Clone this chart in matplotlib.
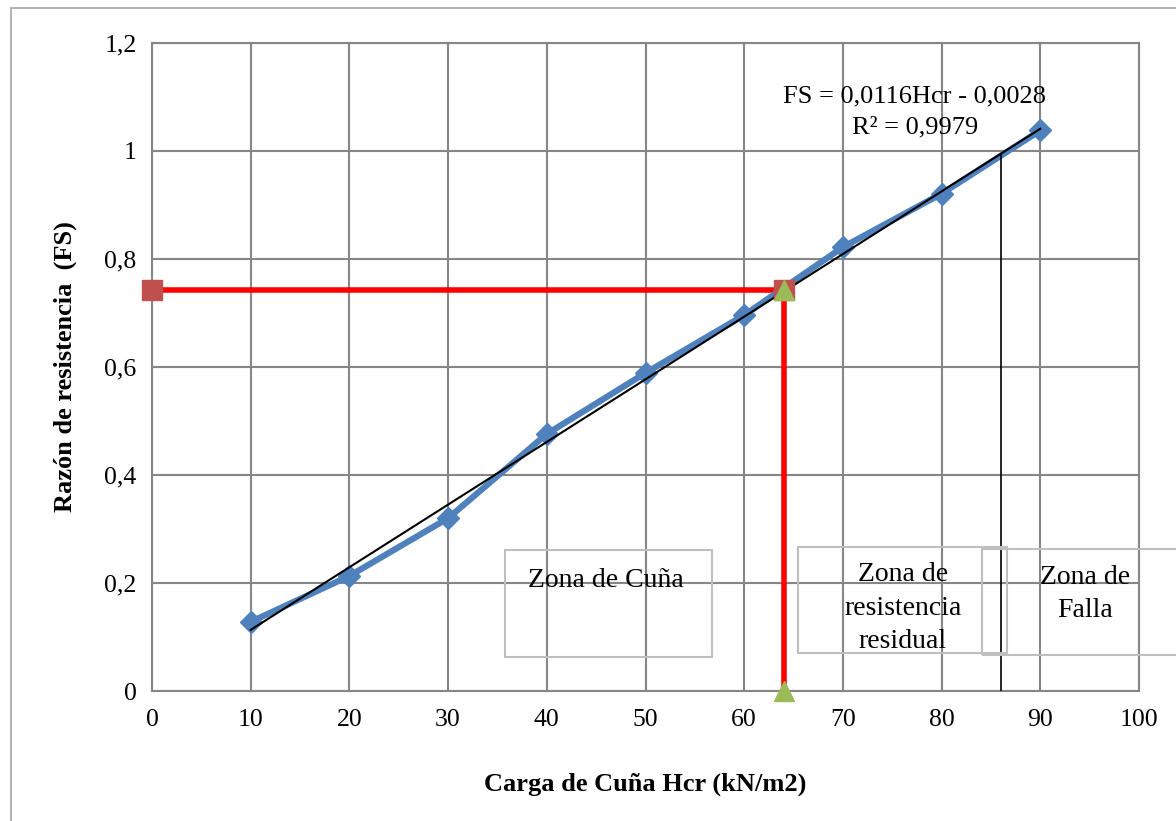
import numpy as np
import matplotlib.pyplot as plt
from matplotlib.patches import Rectangle
from matplotlib.ticker import FuncFormatter, MultipleLocator

# datos
carga_hcr = [10, 20, 30, 40, 50, 60, 70, 80, 90]
razon_fs = [0.128, 0.213, 0.320, 0.476, 0.589, 0.696, 0.822, 0.921, 1.038]

# recta de ajuste FS = 0,0116Hcr - 0,0028
pendiente = 0.0116
intercepto = -0.0028
rango_ajuste = [10, 90]

# lectura de la carga critica
hcr_lectura = 64.0
fs_lectura = 0.743

# limite de zona de falla
hcr_falla = 86.0

zonas = ["Zona de Cuña", "Zona de\nresistencia\nresidual", "Zona de\nFalla"]

W, H = 1176, 821
fig = plt.figure(figsize=(W / 100, H / 100), dpi=100)
plt.rcParams['font.family'] = ['Liberation Serif', 'DejaVu Serif']


def px(x, y):
    return x / W, 1 - y / H


# borde exterior del grafico
fig.patches.append(Rectangle(px(11, 830), (W + 20) / W, (830 - 8) / H,
                             transform=fig.transFigure, fill=False,
                             edgecolor="#a6a6a6", lw=1.2))

ax = fig.add_axes([152 / W, 1 - 691 / H, (1139 - 152) / W, (691 - 43) / H])
ax.set_xlim(0, 100)
ax.set_ylim(0, 1.2)
ax.xaxis.set_major_locator(MultipleLocator(10))
ax.yaxis.set_major_locator(MultipleLocator(0.2))
coma = FuncFormatter(lambda v, p: ("%g" % round(v, 2)).replace(".", ","))
ax.xaxis.set_major_formatter(coma)
ax.yaxis.set_major_formatter(coma)
ax.grid(True, color="#868686", lw=1.5)
ax.set_axisbelow(True)
for s in ax.spines.values():
    s.set_color("#868686")
    s.set_linewidth(1.5)
ax.tick_params(length=0, labelsize=18.5, pad=11)
ax.tick_params(axis="x", pad=13)

# serie de datos
ax.plot(carga_hcr, razon_fs, color="#4f81bd", lw=4.5, marker="D",
        markersize=11, zorder=4, clip_on=False)

# recta de ajuste
xa = np.array(rango_ajuste, dtype=float)
ax.plot(xa, pendiente * xa + intercepto, color="black", lw=1.5, zorder=5)

# lectura en rojo
ax.plot([0, hcr_lectura], [fs_lectura, fs_lectura], color="#ff0000", lw=4,
        zorder=3, clip_on=False)
ax.plot([hcr_lectura, hcr_lectura], [fs_lectura, 0], color="#ff0000", lw=4,
        zorder=3, clip_on=False)
ax.plot([0, hcr_lectura], [fs_lectura, fs_lectura], ls="none", marker="s",
        markersize=14, color="#c0504d", zorder=6, clip_on=False)
ax.plot([hcr_lectura, hcr_lectura], [fs_lectura, 0], ls="none", marker="^",
        markersize=14, color="#9bbb59", zorder=7, clip_on=False)

# limite zona de falla
ax.plot([hcr_falla, hcr_falla], [0, pendiente * hcr_falla + intercepto],
        color="black", lw=1.2, zorder=5)

ax.set_xlabel("Carga de Cuña Hcr (kN/m2)", fontsize=19, fontweight="bold",
              labelpad=30)
ax.set_ylabel("Razón de resistencia  (FS)", fontsize=19, fontweight="bold",
              labelpad=20)

fig.text(*px(915, 112), "FS = 0,0116Hcr - 0,0028\nR² = 0,9979", ha="center",
         va="center", fontsize=19, linespacing=1.5)

# cuadros de zonas
cajas = [(505, 550, 712, 657), (798, 547, 1007, 653), (982, 549, 1200, 655)]
centros = [(606, 580), (903, 608), (1085, 594)]
for (x0, y0, x1, y1), (cx, cy), txt in zip(cajas, centros, zonas):
    fig.patches.append(Rectangle(px(x0, y1), (x1 - x0) / W, (y1 - y0) / H,
                                 transform=fig.transFigure, fill=False,
                                 edgecolor="#bfbfbf", lw=1.5, zorder=8))
    fig.text(*px(cx, cy), txt, ha="center", va="center", fontsize=20,
             linespacing=1.45, zorder=9)

fig.savefig("out.png", dpi=100)
